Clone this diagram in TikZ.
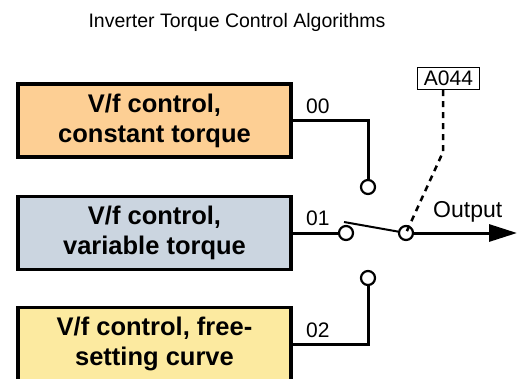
\documentclass[tikz,border=0pt]{standalone}
\usepackage{fontspec}
\setmainfont{Liberation Sans}
\usetikzlibrary{positioning,arrows.meta}
\definecolor{boxorange}{RGB}{253,207,148}
\definecolor{boxblue}{RGB}{203,213,224}
\definecolor{boxyellow}{RGB}{252,234,160}

\begin{document}
\begin{tikzpicture}[
  x=1pt,y=-1pt,
  algo/.style={draw,line width=3.5pt,minimum width=273pt,minimum height=73pt,
    font=\fontsize{25.5}{30}\selectfont\bfseries,align=center},
  contact/.style={circle,draw,fill=white,line width=2.2pt,minimum size=14pt,inner sep=0pt},
  wire/.style={line width=3pt},
  lbl/.style={font=\fontsize{21}{24}\selectfont,inner sep=0pt,anchor=base west},
  param/.style={draw,line width=1.5pt,minimum width=62pt,minimum height=22pt,
    inner sep=1pt,font=\fontsize{21}{24}\selectfont},
]
\useasboundingbox (0,0) rectangle (518,378);
\clip (0,0) rectangle (518,378);
\node[font=\fontsize{19.5}{22}\selectfont] (title) at (237,22) {Inverter Torque Control Algorithms};
% algorithm blocks
\node[algo,fill=boxorange] (const) at (154.5,120.5) {V/f control,\\constant torque};
\node[algo,fill=boxblue] (var) at (154.5,233) {V/f control,\\variable torque};
\node[algo,fill=boxyellow] (free) at (154.5,344) {V/f control, free-\\setting curve};
% switch contacts
\node[contact] (c00) at (368,187) {};
\node[contact] (c01) at (346,233) {};
\node[contact] (c02) at (368,278) {};
\node[contact] (piv) at (406,233) {};
\draw[wire] (const.east) -- (const.east -| c00) -- (c00);
\draw[wire] (var.east) -- (c01);
\draw[wire] (free.east) -- (free.east -| c02) -- (c02);
\node[lbl] (l00) at (306,113) {00};
\node[lbl] (l01) at (306,225) {01};
\node[lbl] (l02) at (306,337) {02};
% lever and output
\coordinate (lev) at (344,222);
\draw[line width=2pt] (lev) -- (piv);
\coordinate (out) at (517,233);
\draw[wire,-{Triangle[length=28pt,width=17pt]}] (piv) -- (out);
\node[lbl,font=\fontsize{23}{26}\selectfont] (outlbl) at (433,217) {Output};
% selecting parameter
\node[param] (a044) at (448.5,78.5) {A044};
\coordinate (dtop) at (443,90);
\coordinate (bend) at (443,152);
\draw[line width=2.5pt,dash pattern=on 6pt off 5pt] (dtop) -- (bend) -- (piv.center);
\end{tikzpicture}
\end{document}
